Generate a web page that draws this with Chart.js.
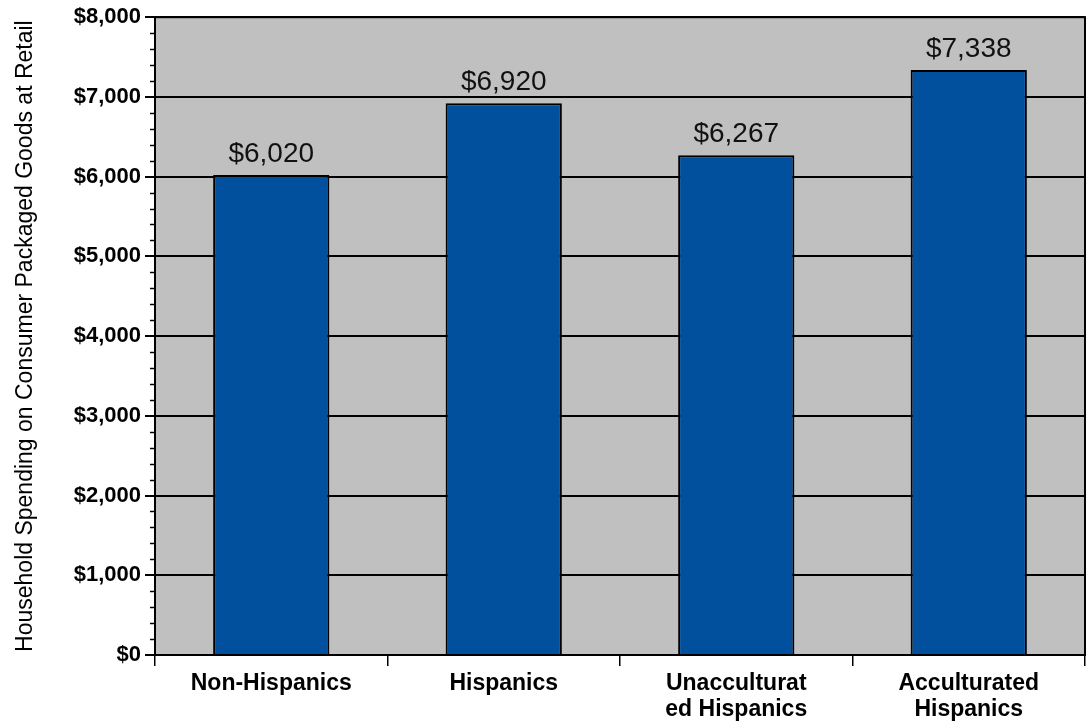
<!DOCTYPE html>
<html>
<head>
<meta charset="utf-8">
<script src="https://cdn.jsdelivr.net/npm/chart.js@4"></script>
<style>
  html, body { margin: 0; padding: 0; background: #ffffff; }
  canvas { display: block; }
</style>
</head>
<body>
<canvas id="chart" width="1087" height="727"></canvas>
<script>
const categories = [
  ['Non-Hispanics'],
  ['Hispanics'],
  ['Unacculturat', 'ed Hispanics'],
  ['Acculturated', 'Hispanics']
];
const spending = [6020, 6920, 6267, 7338];
const yMax = 8000;
const yStep = 1000;
const yMinorStep = 200;
const yTitle = 'Household Spending on Consumer Packaged Goods at Retail';

const money = new Intl.NumberFormat('en-US', { style: 'currency', currency: 'USD', maximumFractionDigits: 0 });

const plotFrame = {
  id: 'plotFrame',
  beforeDraw(chart) {
    const { ctx, chartArea: a } = chart;
    ctx.save();
    ctx.fillStyle = '#c0c0c0';
    ctx.fillRect(a.left, a.top, a.right - a.left, a.bottom - a.top);
    ctx.restore();
  },
  afterDraw(chart) {
    const { ctx, chartArea: a } = chart;
    const y = chart.scales.y;
    ctx.save();
    ctx.strokeStyle = '#000';
    ctx.lineWidth = 2;
    ctx.strokeRect(a.left, a.top, a.right - a.left, a.bottom - a.top);
    // minor ticks on the value axis
    ctx.lineWidth = 1.5;
    for (let v = 0; v <= yMax; v += yMinorStep) {
      if (v % yStep === 0) continue;
      const py = Math.round(y.getPixelForValue(v)) + 0.5;
      ctx.beginPath();
      ctx.moveTo(a.left - 5, py);
      ctx.lineTo(a.left, py);
      ctx.stroke();
    }
    // value labels above bars
    const meta = chart.getDatasetMeta(0);
    ctx.fillStyle = '#111';
    ctx.font = '28px "Liberation Sans", Arial, sans-serif';
    ctx.textAlign = 'center';
    ctx.textBaseline = 'alphabetic';
    meta.data.forEach((bar, i) => {
      ctx.fillText(money.format(spending[i]), bar.x, bar.y - 13);
    });
    ctx.restore();
  }
};

new Chart(document.getElementById('chart'), {
  type: 'bar',
  data: {
    labels: categories,
    datasets: [{
      data: spending,
      backgroundColor: '#00509d',
      borderColor: '#000',
      borderWidth: 2,
      borderSkipped: 'bottom',
      barPercentage: 0.5,
      categoryPercentage: 1.0
    }]
  },
  options: {
    responsive: false,
    devicePixelRatio: 1,
    animation: false,
    layout: { padding: { top: 15, right: 2, left: 0, bottom: 0 } },
    plugins: {
      legend: { display: false },
      tooltip: { enabled: false }
    },
    scales: {
      x: {
        offset: true,
        grid: {
          display: true,
          offset: true,
          drawOnChartArea: false,
          drawTicks: true,
          tickLength: 11,
          color: '#000',
          lineWidth: 1.5
        },
        border: { display: true, color: '#000', width: 2 },
        ticks: {
          color: '#000',
          padding: 4,
          maxRotation: 0,
          autoSkip: false,
          font: { family: '"Liberation Sans", Arial, sans-serif', size: 23, weight: 'bold', lineHeight: 1.15 }
        },
        afterFit(scale) { scale.height = 72; }
      },
      y: {
        min: 0,
        max: yMax,
        ticks: {
          stepSize: yStep,
          color: '#000',
          padding: 4,
          callback: v => money.format(v),
          font: { family: '"Liberation Sans", Arial, sans-serif', size: 22, weight: 'bold' }
        },
        grid: {
          color: '#000',
          lineWidth: 2,
          drawTicks: true,
          tickLength: 10,
          tickColor: '#000'
        },
        border: { display: true, color: '#000', width: 2 },
        title: {
          display: true,
          text: yTitle,
          color: '#000',
          padding: { top: 12, bottom: 0 },
          font: { family: '"Liberation Sans", Arial, sans-serif', size: 23 }
        },
        afterFit(scale) { scale.width = 155; }
      }
    }
  },
  plugins: [plotFrame]
});
</script>
</body>
</html>
